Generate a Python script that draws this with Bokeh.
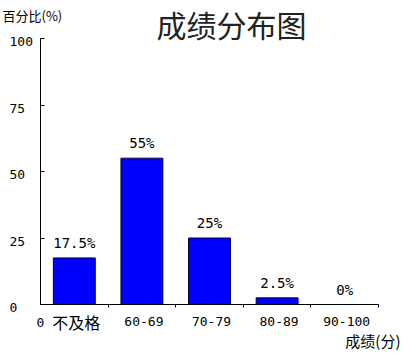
from bokeh.plotting import figure
from bokeh.models import Range1d, FixedTicker, LabelSet, Label, ColumnDataSource
from bokeh.core.properties import value
from bokeh.embed import file_html
from bokeh.resources import INLINE

# ---- data ----
categories = ["不及格", "60-69", "70-79", "80-89", "90-100"]
percents = [17.5, 55, 25, 2.5, 0]
value_labels = ["17.5%", "55%", "25%", "2.5%", "0%"]
y_ticks = [0, 25, 50, 75, 100]
y_tick_labels = ["0", "25", "50", "75", "100"]
title_text = "成绩分布图"
y_title = "百分比(%)"
x_title = "成绩(分)"

MONO = "DejaVu Sans Mono"
CJK = "Noto Sans CJK SC"

def has_cjk(s):
    return any(ord(c) > 0x2E80 for c in s)

n = len(categories)
centers = [i + 0.5 for i in range(n)]
YMAX = 100

W, H = 404, 356
# frame fills the canvas; axes sit at fixed locations inside it
PX_L, PX_R, PX_T, PX_B = 40, 378, 38, 304   # plot-area pixel box
sx = (PX_R - PX_L) / n
sy = (PX_B - PX_T) / YMAX
x_range = Range1d(-PX_L / sx, n + (W - PX_R) / sx)
y_range = Range1d(-(H - PX_B) / sy, YMAX + PX_T / sy)

p = figure(width=W, height=H, x_range=x_range, y_range=y_range,
           output_backend="svg", toolbar_location=None,
           min_border=0, min_border_left=0, min_border_right=0,
           min_border_top=0, min_border_bottom=0)
p.grid.visible = False
p.outline_line_color = None
p.background_fill_color = "white"
p.border_fill_color = "white"

bars = ColumnDataSource(dict(x=centers, top=percents, lab=value_labels))
p.vbar(x="x", top="top", width=0.62, source=bars, fill_color="#0000FF",
       line_color="#000040", line_width=1)

p.add_layout(LabelSet(x="x", y="top", text="lab", source=bars, y_offset=7,
                      text_align="center", text_baseline="bottom",
                      text_font=value(MONO), text_font_size="14px", text_color="black"))

# x axis
xa = p.xaxis[0]
xa.fixed_location = 0
xa.bounds = (0, n)
xa.ticker = FixedTicker(ticks=[0], minor_ticks=list(range(1, n + 1)))
xa.major_label_overrides = {0: "0"}
xa.major_tick_in = 0
xa.major_tick_out = 0
xa.minor_tick_in = 0
xa.minor_tick_out = 3
xa.minor_tick_line_color = "black"
xa.axis_line_color = "black"
xa.major_label_standoff = 10
xa.major_label_text_font = MONO
xa.major_label_text_font_size = "13px"
xa.major_label_text_color = "black"

# y axis
ya = p.yaxis[0]
ya.fixed_location = 0
ya.bounds = (0, YMAX)
ya.ticker = FixedTicker(ticks=y_ticks)
ya.major_tick_in = 4
ya.major_tick_out = 0
ya.minor_tick_line_color = None
ya.axis_line_color = "black"
ya.major_tick_line_color = "black"
ya.major_label_text_color = None
ya.major_label_text_font_size = "1px"
ya.major_label_standoff = 0

ytl = ColumnDataSource(dict(y=y_ticks, lab=y_tick_labels, x=[0] * len(y_ticks)))
p.add_layout(LabelSet(x="x", y="y", text="lab", source=ytl, x_offset=-31, y_offset=-3,
                      text_align="left", text_baseline="middle",
                      text_font=value(MONO), text_font_size="13px", text_color="black"))

# category labels
cat_src = ColumnDataSource(dict(
    x=centers, y=[0] * n, lab=categories,
    font=[CJK if has_cjk(c) else MONO for c in categories],
    size=["16px" if has_cjk(c) else "13px" for c in categories]))
p.add_layout(LabelSet(x="x", y="y", text="lab", source=cat_src, x_offset=2, y_offset=-17,
                      text_align="center", text_baseline="middle",
                      text_font="font", text_font_size="size", text_color="black"))

p.add_layout(Label(x=0, y=YMAX, x_offset=191, y_offset=15, text=title_text,
                   text_align="center", text_baseline="middle",
                   text_font=CJK, text_font_size="30px", text_color="#222222"))
p.add_layout(Label(x=0, y=YMAX, x_offset=-38, y_offset=23, text=y_title,
                   text_align="left", text_baseline="middle",
                   text_font=CJK, text_font_size="13px", text_color="black"))
p.add_layout(Label(x=n, y=0, x_offset=22, y_offset=-36, text=x_title,
                   text_align="right", text_baseline="middle",
                   text_font=CJK, text_font_size="15px", text_color="black"))

open("out.html", "w").write(file_html(p, INLINE))
